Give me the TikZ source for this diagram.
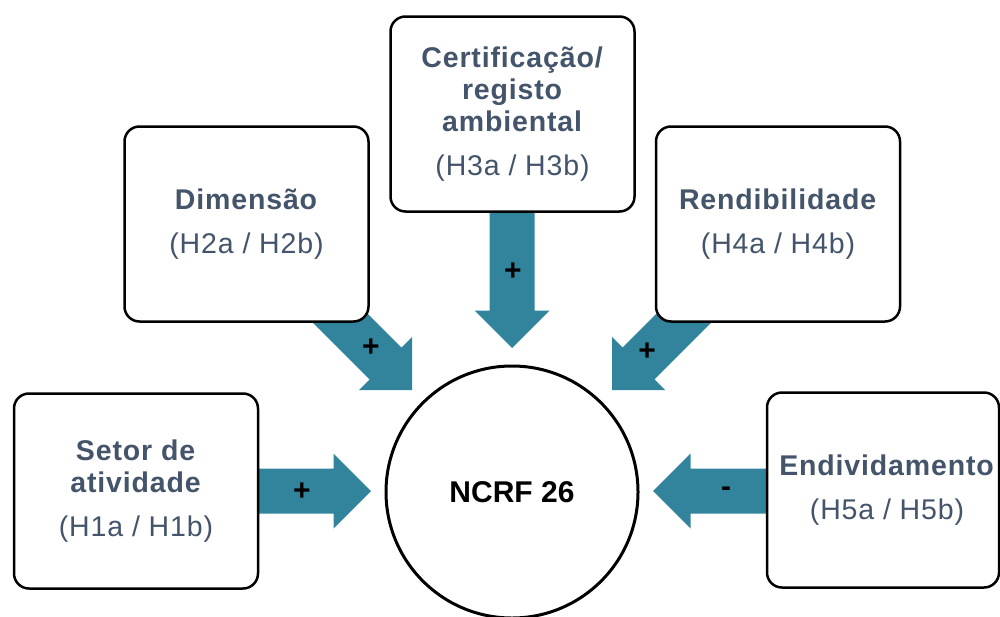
\documentclass[tikz,border=0pt]{standalone}
\usepackage{fontspec}
\setmainfont{Liberation Sans}
\newfontfamily\boxfont{Liberation Sans}[LetterSpace=3]
\definecolor{txtc}{HTML}{44546A}
\definecolor{arrc}{HTML}{31849B}
\begin{document}
\begin{tikzpicture}[x=1pt,y=-1pt,
  box/.style={draw=black, line width=2.5pt, rounded corners=15pt, fill=white,
    minimum width=244pt, minimum height=195pt, inner sep=0pt},
  txt/.style={text=txtc, align=center, inner sep=0pt,
    font=\boxfont\fontsize{28.5}{32}\selectfont},
  sign/.style={font=\bfseries\fontsize{30}{30}\selectfont, inner sep=0pt, text=black},
  blockarrow/.style={fill=arrc, draw=none}]
\useasboundingbox (0,0) rectangle (1000,616);

% block arrows
\fill[blockarrow] (250,468.5) -- (333.5,468.5) -- (333.5,453.5) -- (371,491) -- (333.5,528.5) -- (333.5,513.5) -- (250,513.5) -- cycle;
\fill[blockarrow] (775,468.5) -- (690.5,468.5) -- (690.5,453.5) -- (653,491) -- (690.5,528.5) -- (690.5,513.5) -- (775,513.5) -- cycle;
\fill[blockarrow] (489.5,200) -- (534.5,200) -- (534.5,310.5) -- (549.5,310.5) -- (512,348) -- (474.5,310.5) -- (489.5,310.5) -- cycle;
\fill[blockarrow] (330.7,276.9) -- (401.4,347.6) -- (412,337) -- (412,390) -- (359,390) -- (369.6,379.4) -- (298.9,308.7) -- cycle;
\fill[blockarrow] (693.3,276.9) -- (622.6,347.6) -- (612,337) -- (612,390) -- (665,390) -- (654.4,379.4) -- (725.1,308.7) -- cycle;

% boxes
\node[box] (setor) at (136,491) {};
\node[txt] (setortext) at (136,491) {\textbf{Setor de}\\\textbf{atividade}\\[12pt](H1a / H1b)};
\node[box] (dim) at (246.5,224) {};
\node[txt] (dimtext) at (246.5,224) {\textbf{Dimensão}\\[12pt](H2a / H2b)};
\node[box] (cert) at (512.5,114) {};
\node[txt] (certtext) at (512.5,114) {\textbf{Certificação/}\\\textbf{registo}\\\textbf{ambiental}\\[12pt](H3a / H3b)};
\node[box] (rend) at (778,224) {};
\node[txt] (rendtext) at (778,224) {\textbf{Rendibilidade}\\[12pt](H4a / H4b)};
\node[box, minimum width=232pt] (endiv) at (883,490) {};
\node[txt] (endivtext) at (887,490) {\textbf{Endividamento}\\[12pt](H5a / H5b)};

% centre
\node[circle, draw=black, line width=3pt, fill=white, minimum size=252pt, inner sep=0pt,
  font=\bfseries\fontsize{30}{30}\selectfont] (ncrf) at (512,492) {NCRF 26};

% signs
\node[sign] (s1) at (302,492) {+};
\node[sign] (s2) at (371,348) {+};
\node[sign] (s3) at (513,272) {+};
\node[sign] (s4) at (647,352) {+};
\node[sign] (s5) at (726,492) {-};
\end{tikzpicture}
\end{document}
